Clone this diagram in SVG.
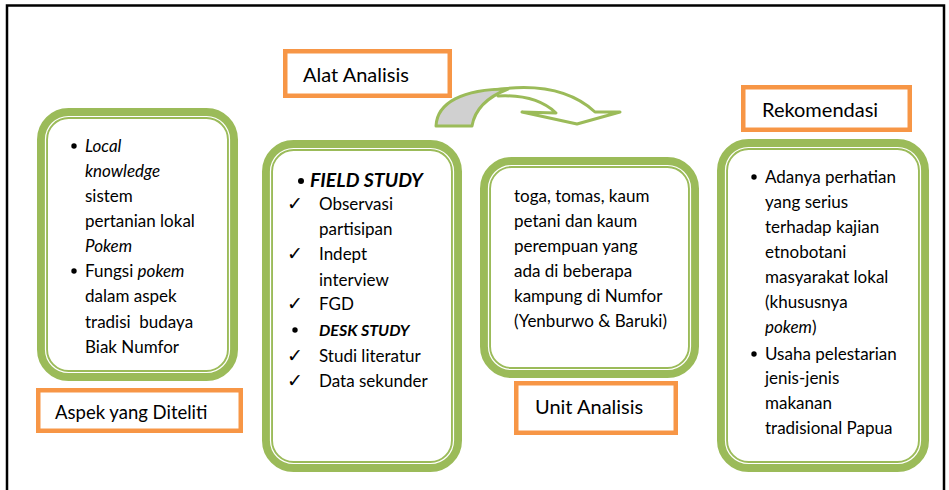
<svg xmlns="http://www.w3.org/2000/svg" width="949" height="490" viewBox="0 0 949 490">
<style>
.gout{fill:#fff;stroke:#9BBB59;stroke-width:11}
.gin{fill:none;stroke:#fff;stroke-width:1.2}
.org{fill:#fff;stroke:#F79646;stroke-width:4.5}
text{font-family:Lato,"Open Sans","Liberation Sans",sans-serif;fill:#000}
.b{font-size:17px}
.lbl{font-size:20px}
.i{font-style:italic}
.bi{font-weight:bold;font-style:italic}
.chk{font-family:"DejaVu Sans",sans-serif;font-size:19px}
.arr{stroke:#9BBB59;stroke-width:3;stroke-linejoin:round}
</style>
<rect width="949" height="490" fill="#fff"/>
<path d="M7,490 V5.5 H944 V490" fill="none" stroke="#000" stroke-width="2.5"/>

<g id="connectors">
<path class="arr" d="M494,90 Q560,80 595,112 L620,112 L577,124 L522,112 L556,113 Q536,94 498,96 Z" fill="#fff"/>
<path class="arr" d="M436,126 C437,103 462,89 508,89 C490,96 475,108 472,126 Z" fill="#D0D0D0"/>
</g>

<g id="aspek-box">
<rect class="gout" x="42.5" y="113.5" width="190" height="262" rx="26"/>
<rect class="gin" x="45.5" y="116.5" width="184" height="256" rx="23"/>
<circle cx="74" cy="146" r="2.7"/>
<text class="b i" x="85" y="152">Local</text>
<text class="b i" x="85" y="177">knowledge</text>
<text class="b" x="85" y="202">sistem</text>
<text class="b" x="85" y="227">pertanian lokal</text>
<text class="b i" x="85" y="252">Pokem</text>
<circle cx="74" cy="271" r="2.7"/>
<text class="b" x="85" y="277">Fungsi <tspan class="i">pokem</tspan></text>
<text class="b" x="85" y="302">dalam aspek</text>
<text class="b" x="85" y="328" xml:space="preserve">tradisi  budaya</text>
<text class="b" x="85" y="353">Biak Numfor</text>
</g>

<g id="aspek-label">
<rect class="org" x="38.25" y="390.25" width="202.5" height="40.5"/>
<text class="lbl" style="font-size:18.5px" x="55" y="419">Aspek yang Diteliti</text>
</g>

<g id="alat-box">
<rect class="gout" x="267.5" y="145.5" width="189" height="321" rx="26"/>
<rect class="gin" x="270.5" y="148.5" width="183" height="315" rx="23"/>
<circle cx="301" cy="181" r="3"/>
<text class="bi" style="font-size:19.5px" x="310" y="187">FIELD STUDY</text>
<text class="chk" x="287" y="210">✓</text>
<text class="b" x="319" y="210">Observasi</text>
<text class="b" x="319" y="235">partisipan</text>
<text class="chk" x="287" y="260">✓</text>
<text class="b" x="319" y="260">Indept</text>
<text class="b" x="319" y="286">interview</text>
<text class="chk" x="287" y="310">✓</text>
<text class="b" x="319" y="310">FGD</text>
<circle cx="295" cy="330" r="2.7"/>
<text class="bi" style="font-size:16px" x="319" y="336">DESK STUDY</text>
<text class="chk" x="287" y="362">✓</text>
<text class="b" x="319" y="362">Studi literatur</text>
<text class="chk" x="287" y="387">✓</text>
<text class="b" x="319" y="387">Data sekunder</text>
</g>

<g id="alat-label">
<rect class="org" x="285.25" y="51.25" width="164.5" height="44.5"/>
<text class="lbl" x="303" y="82">Alat Analisis</text>
</g>

<g id="unit-box">
<rect class="gout" x="485.5" y="162.5" width="208" height="210" rx="26"/>
<rect class="gin" x="488.5" y="165.5" width="202" height="204" rx="23"/>
<text class="b" x="514" y="202">toga, tomas, kaum</text>
<text class="b" x="514" y="227">petani dan kaum</text>
<text class="b" x="514" y="252">perempuan yang</text>
<text class="b" x="514" y="277">ada di beberapa</text>
<text class="b" x="514" y="302">kampung di Numfor</text>
<text class="b" x="514" y="327">(Yenburwo &amp; Baruki)</text>
</g>

<g id="unit-label">
<rect class="org" x="516.25" y="383.25" width="159.5" height="49.5"/>
<text class="lbl" x="535" y="414">Unit Analisis</text>
</g>

<g id="rekomendasi-box">
<rect class="gout" x="722.5" y="144.5" width="201" height="322" rx="26"/>
<rect class="gin" x="725.5" y="147.5" width="195" height="316" rx="23"/>
<circle cx="754" cy="177" r="2.7"/>
<text class="b" x="765" y="183">Adanya perhatian</text>
<text class="b" x="765" y="208">yang serius</text>
<text class="b" x="765" y="233">terhadap kajian</text>
<text class="b" x="765" y="258">etnobotani</text>
<text class="b" x="765" y="283">masyarakat lokal</text>
<text class="b" x="765" y="308">(khususnya</text>
<text class="b" x="765" y="333"><tspan class="i">pokem</tspan>)</text>
<circle cx="754" cy="354" r="2.7"/>
<text class="b" x="765" y="360">Usaha pelestarian</text>
<text class="b" x="765" y="384">jenis-jenis</text>
<text class="b" x="765" y="409">makanan</text>
<text class="b" x="765" y="434">tradisional Papua</text>
</g>

<g id="rekomendasi-label">
<rect class="org" x="743.25" y="87.25" width="166.5" height="42.5"/>
<text class="lbl" x="762" y="117">Rekomendasi</text>
</g>
</svg>
